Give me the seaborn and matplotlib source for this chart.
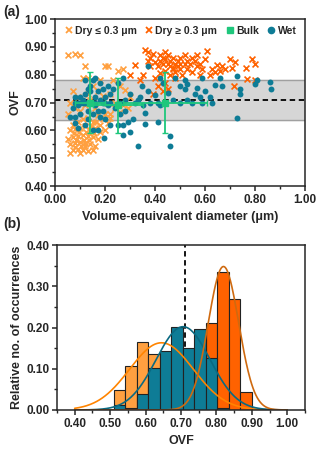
import numpy as np
import pandas as pd
import matplotlib
matplotlib.use("Agg")
import matplotlib.pyplot as plt
from matplotlib.ticker import MultipleLocator, FormatStrFormatter
from matplotlib.lines import Line2D
import seaborn as sns

sns.set_style("ticks")
plt.rcParams['font.family'] = ['Liberation Sans', 'DejaVu Sans']
plt.rcParams['font.weight'] = 'bold'

# ---- panel (a) data: OVF vs volume-equivalent diameter ----
dry_small_x = [0.05, 0.08, 0.10, 0.12, 0.13, 0.20, 0.21, 0.25, 0.27, 0.11, 0.18, 0.23, 0.15, 0.26,
               0.28, 0.22, 0.30, 0.19, 0.27, 0.24, 0.26, 0.20, 0.22, 0.18, 0.07, 0.09, 0.06, 0.08,
               0.05, 0.10, 0.12, 0.14, 0.16, 0.17, 0.19, 0.21, 0.15, 0.13, 0.11, 0.09, 0.07, 0.06,
               0.08, 0.10, 0.12, 0.14, 0.16, 0.18, 0.17, 0.15, 0.13, 0.11, 0.09, 0.07, 0.05, 0.06,
               0.08, 0.10, 0.12, 0.14, 0.16, 0.07, 0.09, 0.11, 0.13, 0.15, 0.06, 0.10, 0.12, 0.08,
               0.115, 0.095, 0.135, 0.075, 0.155, 0.105, 0.085, 0.125, 0.145, 0.165, 0.20, 0.22,
               0.24, 0.29, 0.17, 0.13]
dry_small_y = [0.87, 0.875, 0.872, 0.83, 0.79, 0.83, 0.83, 0.815, 0.82, 0.79, 0.78, 0.78, 0.76, 0.76,
               0.745, 0.73, 0.72, 0.725, 0.69, 0.68, 0.665, 0.66, 0.645, 0.62, 0.74, 0.72, 0.70, 0.68,
               0.66, 0.67, 0.69, 0.71, 0.68, 0.655, 0.64, 0.625, 0.63, 0.645, 0.64, 0.63, 0.62, 0.60,
               0.605, 0.61, 0.615, 0.60, 0.61, 0.595, 0.57, 0.575, 0.58, 0.585, 0.58, 0.575, 0.57, 0.55,
               0.555, 0.56, 0.555, 0.55, 0.545, 0.53, 0.535, 0.53, 0.525, 0.53, 0.52, 0.52, 0.545, 0.54,
               0.565, 0.595, 0.565, 0.59, 0.59, 0.545, 0.565, 0.595, 0.615, 0.63, 0.60, 0.66,
               0.70, 0.68, 0.74, 0.73]

dry_large_x = [0.30, 0.32, 0.34, 0.35, 0.36, 0.37, 0.38, 0.37, 0.39, 0.38, 0.40, 0.41, 0.42, 0.43,
               0.43, 0.44, 0.45, 0.45, 0.46, 0.46, 0.47, 0.47, 0.48, 0.48, 0.49, 0.49, 0.50, 0.50,
               0.51, 0.52, 0.52, 0.53, 0.54, 0.55, 0.56, 0.57, 0.58, 0.59, 0.60, 0.61, 0.62, 0.63,
               0.64, 0.65, 0.66, 0.67, 0.68, 0.70, 0.72, 0.71, 0.765, 0.787, 0.80, 0.77, 0.715, 0.80,
               0.40, 0.42, 0.44, 0.46, 0.48, 0.44, 0.41, 0.45, 0.39, 0.43, 0.47, 0.42, 0.44, 0.50,
               0.53, 0.55, 0.57, 0.58]
dry_large_y = [0.80, 0.835, 0.78, 0.80, 0.89, 0.88, 0.86, 0.85, 0.875, 0.83, 0.845, 0.83, 0.85, 0.84,
               0.86, 0.855, 0.87, 0.84, 0.83, 0.85, 0.86, 0.82, 0.84, 0.81, 0.85, 0.83, 0.82, 0.86,
               0.80, 0.84, 0.87, 0.82, 0.84, 0.81, 0.85, 0.83, 0.80, 0.82, 0.855, 0.885, 0.80, 0.82,
               0.81, 0.835, 0.815, 0.83, 0.82, 0.855, 0.845, 0.825, 0.825, 0.855, 0.84, 0.785, 0.76, 0.78,
               0.79, 0.805, 0.815, 0.80, 0.79, 0.77, 0.76, 0.75, 0.73, 0.74, 0.825, 0.87, 0.88, 0.84,
               0.85, 0.86, 0.87, 0.84]

wet_x = [0.08, 0.09, 0.10, 0.11, 0.12, 0.09, 0.10, 0.12, 0.13, 0.14, 0.15, 0.16, 0.18, 0.19, 0.17,
         0.16, 0.18, 0.20, 0.22, 0.21, 0.14, 0.11, 0.08, 0.07, 0.06, 0.08, 0.10, 0.13, 0.15, 0.16,
         0.17, 0.18, 0.19, 0.20, 0.13, 0.12, 0.08, 0.09, 0.15, 0.17, 0.197, 0.22, 0.25, 0.27, 0.27,
         0.30, 0.29, 0.31, 0.33, 0.36, 0.36, 0.41, 0.46, 0.46, 0.24, 0.26, 0.28, 0.30, 0.32, 0.34,
         0.33, 0.347, 0.373, 0.42, 0.43, 0.48, 0.50, 0.52, 0.53, 0.57, 0.59, 0.64, 0.66, 0.40, 0.37,
         0.41, 0.45, 0.52, 0.56, 0.59, 0.63, 0.42, 0.35, 0.38, 0.44, 0.47, 0.50, 0.53, 0.55, 0.58,
         0.60, 0.62, 0.67, 0.73, 0.74, 0.74, 0.80, 0.81, 0.86, 0.865, 0.73, 0.25, 0.27, 0.23, 0.21,
         0.26, 0.28, 0.12, 0.14, 0.15, 0.16, 0.19, 0.20, 0.22]
wet_y = [0.70, 0.70, 0.70, 0.70, 0.70, 0.69, 0.72, 0.73, 0.75, 0.76, 0.78, 0.79, 0.77, 0.75, 0.74,
         0.72, 0.71, 0.72, 0.73, 0.76, 0.74, 0.71, 0.72, 0.68, 0.65, 0.65, 0.66, 0.67, 0.66, 0.69,
         0.67, 0.65, 0.67, 0.64, 0.64, 0.62, 0.626, 0.61, 0.60, 0.60, 0.572, 0.62, 0.62, 0.62, 0.583,
         0.594, 0.63, 0.64, 0.544, 0.662, 0.623, 0.63, 0.58, 0.544, 0.68, 0.70, 0.71, 0.73, 0.70, 0.72,
         0.71, 0.76, 0.831, 0.79, 0.77, 0.789, 0.76, 0.78, 0.766, 0.752, 0.789, 0.763, 0.789, 0.727, 0.74,
         0.70, 0.734, 0.75, 0.73, 0.70, 0.70, 0.69, 0.69, 0.70, 0.70, 0.71, 0.70, 0.71, 0.70, 0.72,
         0.74, 0.72, 0.76, 0.795, 0.75, 0.73, 0.767, 0.78, 0.775, 0.75, 0.645, 0.77, 0.79, 0.75, 0.69,
         0.66, 0.67, 0.78, 0.70, 0.70, 0.70, 0.70, 0.70, 0.70]

bulk_x = [0.14, 0.25, 0.44]
bulk_y = [0.70, 0.69, 0.70]
bulk_xerr = [0.06, 0.10, 0.17]
bulk_yerr = [0.11, 0.10, 0.11]

ovf_mean = 0.71
ovf_band = [0.636, 0.782]

# ---- panel (b) data: relative occurrence histograms ----
bin_edges = [0.51, 0.5425, 0.575, 0.6075, 0.64, 0.6725, 0.705, 0.7375, 0.77, 0.8025,
             0.835, 0.8675, 0.90]
hist_small = [0.049, 0.107, 0.165, 0.135, 0.100, 0.090, 0.060, 0.040, 0.020, 0.0, 0.0, 0.0]
hist_large = [0.0, 0.0, 0.0, 0.0, 0.0, 0.0, 0.0, 0.060, 0.212, 0.335, 0.269, 0.043]
hist_wet = [0.012, 0.005, 0.039, 0.103, 0.142, 0.202, 0.150, 0.197, 0.127, 0.005, 0.0, 0.0]

# gaussian fits: (amplitude, centre, width)
fit_small = (0.163, 0.645, 0.090)
fit_wet = (0.202, 0.706, 0.076)
fit_large = (0.348, 0.820, 0.043)

c_small = '#FFA040'
c_large = '#FF6200'
c_wet = '#0E7C96'
c_bulk = '#1EC77C'

fig = plt.figure(figsize=(3.2, 4.53), dpi=100)
ax1 = fig.add_axes([0.172, 0.589, 0.781, 0.369])
ax2 = fig.add_axes([0.178, 0.095, 0.775, 0.364])

# panel (a)
ax1.axhspan(ovf_band[0], ovf_band[1], color='#D6D6D6', zorder=0)
for yb in ovf_band:
    ax1.axhline(yb, color='#A0A0A0', lw=1, zorder=0.5)
ax1.axhline(ovf_mean, color='black', lw=1.3, ls=(0, (3, 2)), zorder=1)

sns.scatterplot(x=dry_small_x, y=dry_small_y, marker='x', color=c_small, s=18,
                linewidth=1.2, ax=ax1, zorder=2)
sns.scatterplot(x=dry_large_x, y=dry_large_y, marker='x', color=c_large, s=18,
                linewidth=1.2, ax=ax1, zorder=2)
ax1.errorbar(bulk_x, bulk_y, xerr=bulk_xerr, yerr=bulk_yerr, fmt='s', color=c_bulk,
             ms=4, capsize=2, elinewidth=1.3, zorder=3)
sns.scatterplot(x=wet_x, y=wet_y, marker='o', color=c_wet, s=18, linewidth=0,
                ax=ax1, zorder=2.5)

ax1.set_xlim(0, 1.0)
ax1.set_ylim(0.40, 1.00)
ax1.xaxis.set_major_locator(MultipleLocator(0.2))
ax1.xaxis.set_minor_locator(MultipleLocator(0.1))
ax1.yaxis.set_major_locator(MultipleLocator(0.1))
ax1.yaxis.set_minor_locator(MultipleLocator(0.05))
ax1.xaxis.set_major_formatter(FormatStrFormatter('%.2f'))
ax1.yaxis.set_major_formatter(FormatStrFormatter('%.2f'))
ax1.set_xlabel('Volume-equivalent diameter (μm)', fontsize=9, fontweight='bold', labelpad=4)
ax1.set_ylabel('OVF', fontsize=9, fontweight='bold', labelpad=2)

handles = [
    Line2D([], [], ls='none', marker='x', color=c_small, mew=1.3, ms=4.5),
    Line2D([], [], ls='none', marker='x', color=c_large, mew=1.3, ms=4.5),
    Line2D([], [], ls='none', marker='s', color=c_bulk, ms=4.5),
    Line2D([], [], ls='none', marker='o', color=c_wet, ms=4.5),
]
labels = ['Dry ≤ 0.3 μm', 'Dry ≥ 0.3 μm', 'Bulk', 'Wet']
ax1.legend(handles, labels, ncol=4, loc='upper center', bbox_to_anchor=(0.5, 1.015),
           frameon=False, prop={'size': 7.5, 'weight': 'bold'}, handletextpad=0.1,
           columnspacing=0.7, handlelength=1.0)

# panel (b)
ax2.axvline(ovf_mean, color='black', lw=1.3, ls=(0, (3, 2)), zorder=0)
centers = [(a + b) / 2 for a, b in zip(bin_edges[:-1], bin_edges[1:])]
for vals, col in [(hist_small, c_small), (hist_large, c_large), (hist_wet, c_wet)]:
    sns.histplot(x=centers, weights=vals, bins=bin_edges, color=col, alpha=1,
                 edgecolor='#222222', linewidth=0.8, ax=ax2, zorder=1)

xs = np.linspace(0.40, 1.00, 300)
for (amp, mu, sd), col in [(fit_small, '#FF8400'), (fit_wet, '#0A6A82'), (fit_large, '#CF6A10')]:
    sns.lineplot(x=xs, y=amp * np.exp(-0.5 * ((xs - mu) / sd) ** 2), color=col,
                 lw=1.2, ax=ax2, zorder=2)

ax2.set_xlim(0.35, 1.05)
ax2.set_ylim(0, 0.40)
ax2.xaxis.set_minor_locator(MultipleLocator(0.05))
ax2.yaxis.set_major_locator(MultipleLocator(0.1))
ax2.yaxis.set_minor_locator(MultipleLocator(0.05))
ax2.set_xticks([0.40, 0.50, 0.60, 0.70, 0.80, 0.90, 1.00])
ax2.xaxis.set_major_formatter(FormatStrFormatter('%.2f'))
ax2.yaxis.set_major_formatter(FormatStrFormatter('%.2f'))
ax2.set_xlabel('OVF', fontsize=9, fontweight='bold', labelpad=4)
ax2.set_ylabel('Relative no. of occurrences', fontsize=9, fontweight='bold', labelpad=2)

for ax in (ax1, ax2):
    for sp in ax.spines.values():
        sp.set_linewidth(1.1)
        sp.set_visible(True)
    ax.tick_params(which='major', length=3.5, width=1.1, labelsize=8.5, pad=2)
    ax.tick_params(which='minor', length=2, width=1.0)
    for lab in ax.get_xticklabels() + ax.get_yticklabels():
        lab.set_fontweight('bold')

fig.text(0.01, 0.99, '(a)', fontsize=10, fontweight='bold', va='top')
fig.text(0.01, 0.522, '(b)', fontsize=10, fontweight='bold', va='top')

fig.savefig('out.png', dpi=100)
